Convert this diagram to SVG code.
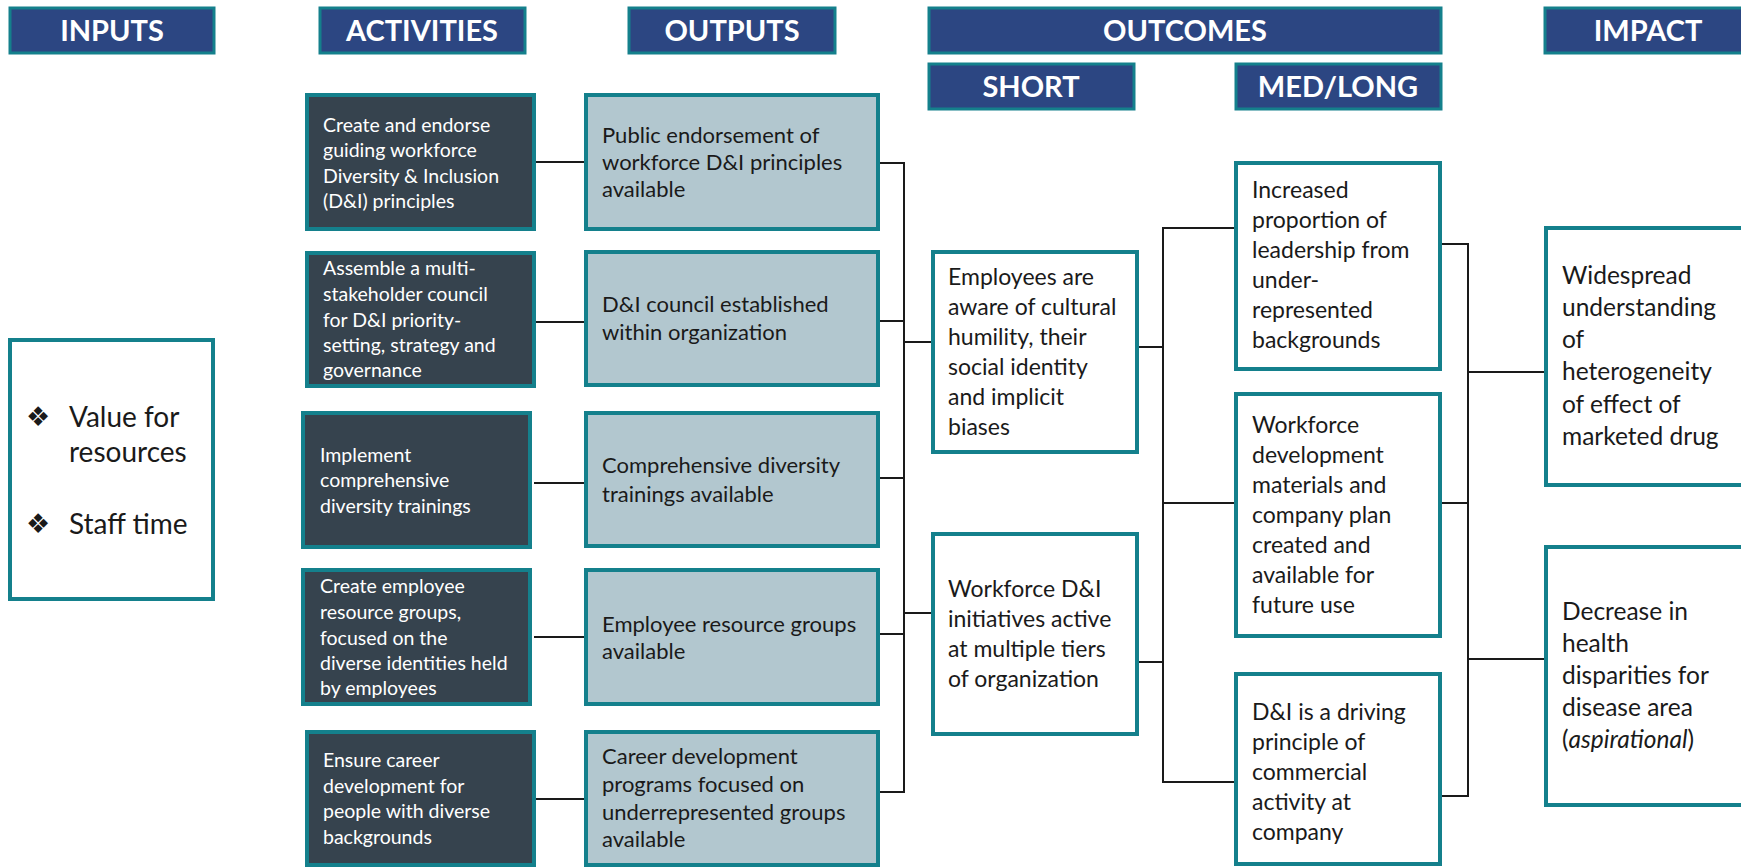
<svg xmlns="http://www.w3.org/2000/svg" width="1741" height="868" viewBox="0 0 1741 868">
<style>
.hdr{fill:#2c4682;stroke:#14808c;stroke-width:3}
.hdrt{font-family:Lato,"Liberation Sans",sans-serif;font-weight:bold;font-size:29px;fill:#fff;text-anchor:middle}
.act{fill:#36434e;stroke:#14808c;stroke-width:4}
.out{fill:#b2c7cf;stroke:#14808c;stroke-width:4}
.wht{fill:#fff;stroke:#14808c;stroke-width:4}
.at{font-family:Lato,"Liberation Sans",sans-serif;font-size:19.5px;fill:#fff}
.ot{font-family:Lato,"Liberation Sans",sans-serif;font-size:22px;fill:#1a1a1a}
.st{font-family:Lato,"Liberation Sans",sans-serif;font-size:23px;fill:#1a1a1a}
.it{font-family:Lato,"Liberation Sans",sans-serif;font-size:24.5px;fill:#1a1a1a}
.inp{font-family:Lato,"Liberation Sans",sans-serif;font-size:28px;fill:#1a1a1a}
.bul{font-family:"DejaVu Sans",sans-serif;font-size:27px;fill:#1a1a1a}
.conn{fill:none;stroke:#1a1a1a;stroke-width:2}
</style>

<g id="headers">
<rect class="hdr" x="10" y="8" width="204" height="45"/><text class="hdrt" x="112" y="41">INPUTS</text>
<rect class="hdr" x="320" y="8" width="205" height="45"/><text class="hdrt" x="422" y="41">ACTIVITIES</text>
<rect class="hdr" x="629" y="8" width="206" height="45"/><text class="hdrt" x="732" y="41">OUTPUTS</text>
<rect class="hdr" x="929" y="8" width="512" height="45"/><text class="hdrt" x="1185" y="41">OUTCOMES</text>
<rect class="hdr" x="929" y="64" width="205" height="45"/><text class="hdrt" x="1031" y="97">SHORT</text>
<rect class="hdr" x="1236" y="64" width="205" height="45"/><text class="hdrt" x="1338" y="97">MED/LONG</text>
<rect class="hdr" x="1545" y="8" width="210" height="45"/><text class="hdrt" x="1648" y="41">IMPACT</text>
</g>

<g id="connectors">
<path class="conn" d="M534 162H586M534 322H586M534 483H586M534 637H586M534 799H586"/>
<path class="conn" d="M878 163H904V792H878M878 321H904M878 478H904M878 634H904M904 342H933M904 613H933"/>
<path class="conn" d="M1137 347H1163M1137 662H1163M1236 228H1163V782H1236M1163 503H1236"/>
<path class="conn" d="M1440 244H1468V796H1440M1440 503H1468M1468 372H1546M1468 659H1546"/>
</g>

<g id="inputs">
<rect class="wht" x="10" y="340" width="203" height="259"/>
<text class="bul" x="26" y="426">❖</text>
<text class="inp" x="69" y="427">Value for</text>
<text class="inp" x="69" y="462">resources</text>
<text class="bul" x="26" y="533">❖</text>
<text class="inp" x="69" y="534">Staff time</text>
</g>

<g id="act1"><rect class="act" x="307" y="95" width="227" height="134"/>
<text class="at"><tspan x="323" y="132">Create and endorse</tspan><tspan x="323" y="157">guiding workforce</tspan><tspan x="323" y="183">Diversity &amp; Inclusion</tspan><tspan x="323" y="208">(D&amp;I) principles</tspan></text></g>
<g id="act2"><rect class="act" x="307" y="253" width="227" height="133"/>
<text class="at"><tspan x="323" y="275">Assemble a multi-</tspan><tspan x="323" y="301">stakeholder council</tspan><tspan x="323" y="327">for D&amp;I priority-</tspan><tspan x="323" y="352">setting, strategy and</tspan><tspan x="323" y="377">governance</tspan></text></g>
<g id="act3"><rect class="act" x="303" y="413" width="227" height="134"/>
<text class="at"><tspan x="320" y="462">Implement</tspan><tspan x="320" y="487">comprehensive</tspan><tspan x="320" y="513">diversity trainings</tspan></text></g>
<g id="act4"><rect class="act" x="303" y="570" width="227" height="134"/>
<text class="at"><tspan x="320" y="593">Create employee</tspan><tspan x="320" y="619">resource groups,</tspan><tspan x="320" y="645">focused on the</tspan><tspan x="320" y="670">diverse identities held</tspan><tspan x="320" y="695">by employees</tspan></text></g>
<g id="act5"><rect class="act" x="307" y="732" width="227" height="133"/>
<text class="at"><tspan x="323" y="767">Ensure career</tspan><tspan x="323" y="793">development for</tspan><tspan x="323" y="818">people with diverse</tspan><tspan x="323" y="844">backgrounds</tspan></text></g>

<g id="out1"><rect class="out" x="586" y="95" width="292" height="134"/>
<text class="ot"><tspan x="602" y="143">Public endorsement of</tspan><tspan x="602" y="170">workforce D&amp;I principles</tspan><tspan x="602" y="197">available</tspan></text></g>
<g id="out2"><rect class="out" x="586" y="252" width="292" height="133"/>
<text class="ot"><tspan x="602" y="312">D&amp;I council established</tspan><tspan x="602" y="340">within organization</tspan></text></g>
<g id="out3"><rect class="out" x="586" y="413" width="292" height="133"/>
<text class="ot"><tspan x="602" y="473">Comprehensive diversity</tspan><tspan x="602" y="502">trainings available</tspan></text></g>
<g id="out4"><rect class="out" x="586" y="570" width="292" height="134"/>
<text class="ot"><tspan x="602" y="632">Employee resource groups</tspan><tspan x="602" y="659">available</tspan></text></g>
<g id="out5"><rect class="out" x="586" y="732" width="292" height="133"/>
<text class="ot"><tspan x="602" y="764">Career development</tspan><tspan x="602" y="792">programs focused on</tspan><tspan x="602" y="820">underrepresented groups</tspan><tspan x="602" y="847">available</tspan></text></g>

<g id="short1"><rect class="wht" x="933" y="252" width="204" height="200"/>
<text class="st"><tspan x="948" y="285">Employees are</tspan><tspan x="948" y="315">aware of cultural</tspan><tspan x="948" y="345">humility, their</tspan><tspan x="948" y="375">social identity</tspan><tspan x="948" y="405">and implicit</tspan><tspan x="948" y="435">biases</tspan></text></g>
<g id="short2"><rect class="wht" x="933" y="534" width="204" height="200"/>
<text class="st"><tspan x="948" y="597">Workforce D&amp;I</tspan><tspan x="948" y="627">initiatives active</tspan><tspan x="948" y="657">at multiple tiers</tspan><tspan x="948" y="687">of organization</tspan></text></g>

<g id="med1"><rect class="wht" x="1236" y="163" width="204" height="206"/>
<text class="st"><tspan x="1252" y="198">Increased</tspan><tspan x="1252" y="228">proportion of</tspan><tspan x="1252" y="258">leadership from</tspan><tspan x="1252" y="288">under-</tspan><tspan x="1252" y="318">represented</tspan><tspan x="1252" y="348">backgrounds</tspan></text></g>
<g id="med2"><rect class="wht" x="1236" y="394" width="204" height="242"/>
<text class="st"><tspan x="1252" y="433">Workforce</tspan><tspan x="1252" y="463">development</tspan><tspan x="1252" y="493">materials and</tspan><tspan x="1252" y="523">company plan</tspan><tspan x="1252" y="553">created and</tspan><tspan x="1252" y="583">available for</tspan><tspan x="1252" y="613">future use</tspan></text></g>
<g id="med3"><rect class="wht" x="1236" y="674" width="204" height="190"/>
<text class="st"><tspan x="1252" y="720">D&amp;I is a driving</tspan><tspan x="1252" y="750">principle of</tspan><tspan x="1252" y="780">commercial</tspan><tspan x="1252" y="810">activity at</tspan><tspan x="1252" y="840">company</tspan></text></g>

<g id="impact1"><rect class="wht" x="1546" y="228" width="210" height="257"/>
<text class="it"><tspan x="1562" y="284">Widespread</tspan><tspan x="1562" y="316">understanding</tspan><tspan x="1562" y="348">of</tspan><tspan x="1562" y="380">heterogeneity</tspan><tspan x="1562" y="413">of effect of</tspan><tspan x="1562" y="445">marketed drug</tspan></text></g>
<g id="impact2"><rect class="wht" x="1546" y="547" width="210" height="258"/>
<text class="it"><tspan x="1562" y="620">Decrease in</tspan><tspan x="1562" y="652">health</tspan><tspan x="1562" y="684">disparities for</tspan><tspan x="1562" y="716">disease area</tspan><tspan x="1562" y="748">(<tspan font-style="italic">aspirational</tspan>)</tspan></text></g>
</svg>
